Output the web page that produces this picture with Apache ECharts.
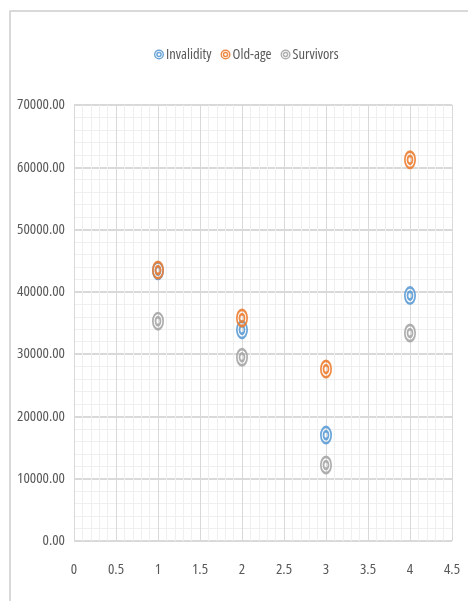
<!DOCTYPE html>
<html>
<head>
<meta charset="utf-8">
<script src="https://cdn.jsdelivr.net/npm/echarts@6/dist/echarts.min.js"></script>
<style>
html,body{margin:0;padding:0;background:#fff;}
#chart{width:468px;height:601px;}
</style>
</head>
<body>
<div id="chart"></div>
<script>
// Data
const seriesNames = ['Invalidity', 'Old-age', 'Survivors'];
const xValues = [1, 2, 3, 4];
const invalidity = [43400, 33900, 17000, 39400];
const oldAge = [43500, 35800, 27600, 61200];
const survivors = [35300, 29500, 12200, 33400];
const xTicks = [0, 0.5, 1, 1.5, 2, 2.5, 3, 3.5, 4, 4.5];
const yTicks = [0, 10000, 20000, 30000, 40000, 50000, 60000, 70000];

const colors = ['#5b9bd5', '#ed7d31', '#a5a5a5'];
const FONT = '"Open Sans"';
const STRETCH = 'condensed';

// bullseye: two rings (outer clockwise, inner hole counter-clockwise)
function ring(r1, r2) {
  return `M0,${-r1} A${r1},${r1} 0 1,1 0,${r1} A${r1},${r1} 0 1,1 0,${-r1} Z ` +
         `M0,${-r2} A${r2},${r2} 0 1,0 0,${r2} A${r2},${r2} 0 1,0 0,${-r2} Z `;
}
const bullseye = 'path://' + ring(10, 7.2) + ring(5.6, 2.7);

const dataSets = [invalidity, oldAge, survivors];

const labelFont = {color: '#595959', fontSize: 15, fontFamily: FONT, fontStyle: 'normal', fontWeight: STRETCH};

const chart = echarts.init(document.getElementById('chart'), null, {renderer: 'canvas'});
chart.setOption({
  animation: false,
  backgroundColor: '#ffffff',
  color: colors,
  graphic: [
    {type: 'line', shape: {x1: 9.5, y1: 11, x2: 468, y2: 11}, style: {stroke: '#d9d9d9', lineWidth: 2}, silent: true},
    {type: 'line', shape: {x1: 10, y1: 11, x2: 10, y2: 601}, style: {stroke: '#d9d9d9', lineWidth: 2}, silent: true}
  ],
  legend: {
    data: seriesNames,
    top: 42,
    left: 149,
    itemWidth: 10,
    itemHeight: 14,
    itemGap: 9,
    icon: bullseye,
    textStyle: Object.assign({}, labelFont, {fontSize: 14.5, padding: [0, 0, 0, -3]})
  },
  grid: {left: 74, right: 16, top: 105, bottom: 60, containLabel: false},
  xAxis: {
    type: 'value',
    min: xTicks[0],
    max: xTicks[xTicks.length - 1],
    interval: 0.5,
    axisLine: {show: false},
    axisTick: {show: false},
    axisLabel: Object.assign({}, labelFont, {margin: 21, formatter: v => String(v)}),
    splitLine: {show: true, lineStyle: {color: '#d9d9d9', width: 1}},
    minorTick: {show: false, splitNumber: 5},
    minorSplitLine: {show: true, lineStyle: {color: '#efefef', width: 1}}
  },
  yAxis: {
    type: 'value',
    min: yTicks[0],
    max: yTicks[yTicks.length - 1],
    interval: 10000,
    axisLine: {show: false},
    axisTick: {show: false},
    axisLabel: Object.assign({}, labelFont, {margin: 9, formatter: v => v.toFixed(2)}),
    splitLine: {show: true, lineStyle: {color: '#d9d9d9', width: 2}},
    minorTick: {show: false, splitNumber: 5},
    minorSplitLine: {show: true, lineStyle: {color: '#efefef', width: 1}}
  },
  series: seriesNames.map((name, i) => ({
    name: name,
    type: 'scatter',
    symbol: bullseye,
    symbolSize: [12, 19],
    itemStyle: {color: colors[i], opacity: 0.9},
    data: xValues.map((x, j) => [x, dataSets[i][j]])
  }))
});
</script>
</body>
</html>
